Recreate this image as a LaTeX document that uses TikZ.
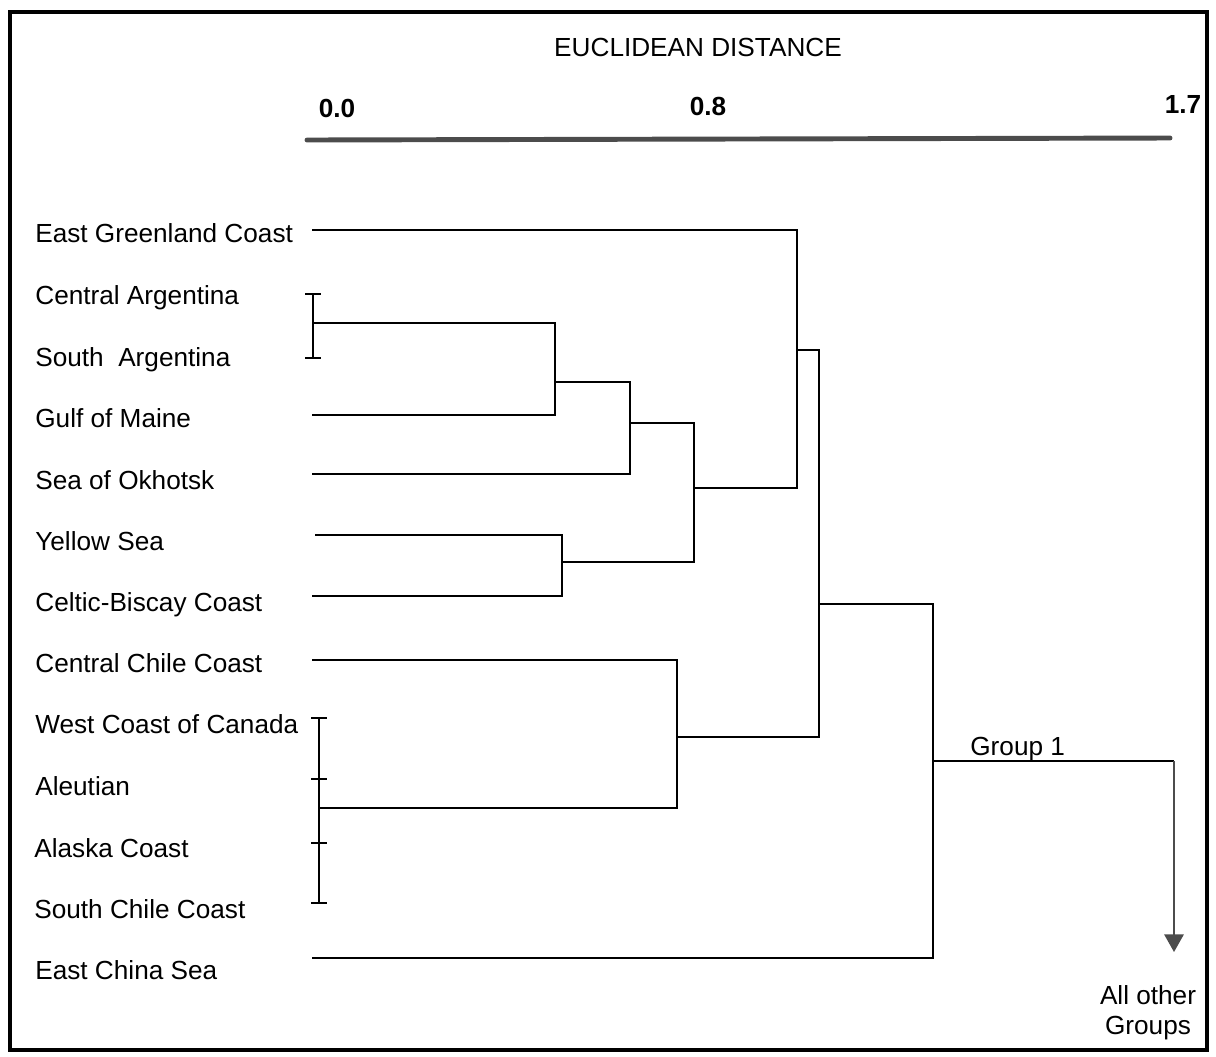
\documentclass[tikz,border=0pt]{standalone}
\usepackage{fontspec}
\setmainfont{Liberation Sans}
\usetikzlibrary{arrows.meta}

\begin{document}
\begin{tikzpicture}[x=0.02cm,y=-0.02cm,
    leaf/.style={anchor=base west,inner sep=0pt,font=\fontsize{14.9}{17}\selectfont},
    scalenum/.style={anchor=base,inner sep=0pt,font=\fontsize{14.9}{17}\selectfont\bfseries},
    branch/.style={line width=1pt},
    bar/.style={line width=1pt},
    ]
        \useasboundingbox (0,0) rectangle (1216,1056);

        %% Frame and axis
        \draw [line width=2.8pt] (10,12) rectangle (1207,1050);
        \node [anchor=base,inner sep=0pt,font=\fontsize{14.9}{17}\selectfont] (title) at (698,56) {EUCLIDEAN DISTANCE};
        \node [scalenum] (s0) at (337,117) {0.0};
        \node [scalenum] (s1) at (708,115) {0.8};
        \node [scalenum] (s2) at (1183,113) {1.7};
        \coordinate (axis-l) at (307,140);
        \coordinate (axis-r) at (1170,138);
        \draw [line width=2.8pt, black!70, line cap=round] (axis-l) -- (axis-r);

        %% Leaf labels
        \node [leaf] (egc) at (35,242) {East Greenland Coast};
        \node [leaf] (cag) at (35,304) {Central Argentina};
        \node [leaf] (sag) at (35,366) {South~~Argentina};
        \node [leaf] (gom) at (35,427) {Gulf of Maine};
        \node [leaf] (soo) at (35,489) {Sea of Okhotsk};
        \node [leaf] (yes) at (35,550) {Yellow Sea};
        \node [leaf] (cbc) at (35,611) {Celtic-Biscay Coast};
        \node [leaf] (ccc) at (35,672) {Central Chile Coast};
        \node [leaf] (wcc) at (35,733) {West Coast of Canada};
        \node [leaf] (ale) at (35,795) {Aleutian};
        \node [leaf] (akc) at (34,857) {Alaska Coast};
        \node [leaf] (scc) at (34,918) {South Chile Coast};
        \node [leaf] (ecs) at (35,979) {East China Sea};

        %% Leaf ends
        \coordinate (e1) at (312,230);
        \coordinate (e4) at (312,415);
        \coordinate (e5) at (312,474);
        \coordinate (e6) at (315,535);
        \coordinate (e7) at (312,596);
        \coordinate (e8) at (312,660);
        \coordinate (e13) at (312,958);

        %% Bars for tied leaves
        \coordinate (ar1) at (313,294);
        \coordinate (ar2) at (313,358);
        \coordinate (arm) at (313,323);
        \draw [bar] (ar1) -- (ar2);
        \draw [bar] ([xshift=-4.5pt]ar1) -- ([xshift=4.5pt]ar1);
        \draw [bar] ([xshift=-4.5pt]ar2) -- ([xshift=4.5pt]ar2);

        \coordinate (ca1) at (319,718);
        \coordinate (ca2) at (319,779);
        \coordinate (ca3) at (319,843);
        \coordinate (ca4) at (319,903);
        \coordinate (cam) at (319,808);
        \draw [bar] (ca1) -- (ca4);
        \draw [bar] ([xshift=-4.5pt]ca1) -- ([xshift=4.5pt]ca1);
        \draw [bar] ([xshift=-4.5pt]ca2) -- ([xshift=4.5pt]ca2);
        \draw [bar] ([xshift=-4.5pt]ca3) -- ([xshift=4.5pt]ca3);
        \draw [bar] ([xshift=-4.5pt]ca4) -- ([xshift=4.5pt]ca4);

        %% Junctions
        \coordinate (k1) at (555,382);
        \coordinate (k2) at (630,423);
        \coordinate (k3) at (694,488);
        \coordinate (k4) at (562,562);
        \coordinate (k5) at (797,350);
        \coordinate (k6) at (819,604);
        \coordinate (k7) at (677,737);
        \coordinate (k8) at (933,761);

        %% Branches
        \draw [branch] (arm) -| (k1) |- (e4);
        \draw [branch] (k1) -| (k2) |- (e5);
        \draw [branch] (e6) -| (k4) |- (e7);
        \draw [branch] (k2) -| (k3) |- (k4);
        \draw [branch] (e1) -| (k5) |- (k3);
        \draw [branch] (e8) -| (k7) |- (cam);
        \draw [branch] (k5) -| (k6) |- (k7);
        \draw [branch] (k6) -| (k8) |- (e13);

        %% Link to the other groups
        \coordinate (bend) at (1174,761);
        \coordinate (tip) at (1174,952);
        \draw [branch] (k8) -- (bend);
        \draw [branch, black!70, -{Triangle[width=11pt,length=10pt]}] (bend) -- (tip);
        \node [leaf] (grp) at (970,755) {Group 1};
        \node [anchor=north,align=center,inner sep=0pt,font=\fontsize{14.9}{17}\selectfont] (others) at (1148,985) {All other\\Groups};
    \end{tikzpicture}
\end{document}
